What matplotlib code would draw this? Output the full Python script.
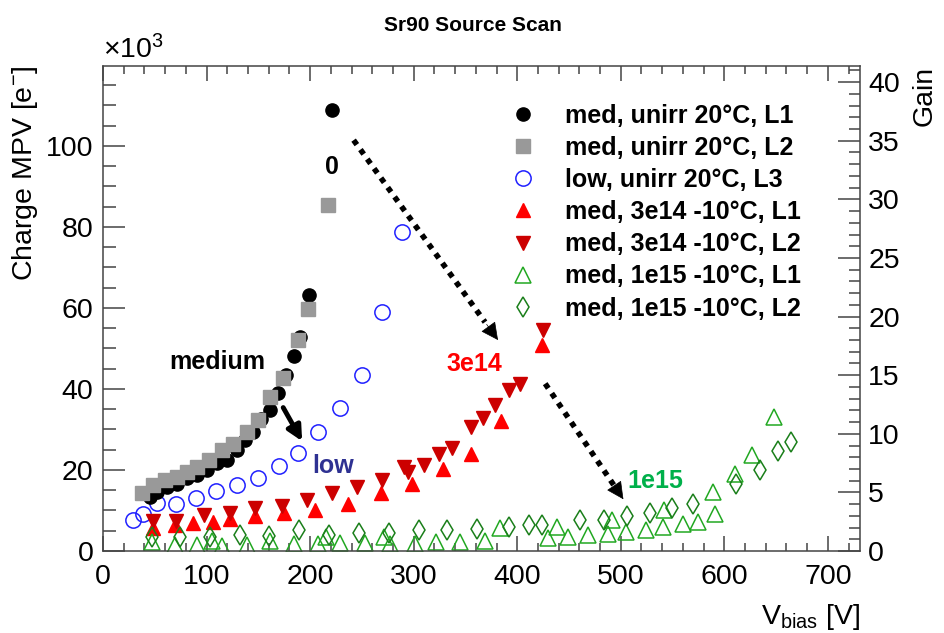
import numpy as np
import matplotlib
matplotlib.use("Agg")
import matplotlib.pyplot as plt
from matplotlib.ticker import MultipleLocator

plt.rcParams['font.family'] = ['Liberation Sans', 'DejaVu Sans']
plt.rcParams['mathtext.fontset'] = 'custom'
plt.rcParams['mathtext.rm'] = 'Liberation Sans'
plt.rcParams['mathtext.it'] = 'Liberation Sans:italic'
plt.rcParams['mathtext.bf'] = 'Liberation Sans:bold'

# bias voltage [V] and charge MPV [x1e3 e-]
v_unirr_l1 = [45, 52, 61.5, 71, 81, 90.5, 100, 110, 120, 129, 137, 145, 153, 161, 169, 177, 184.5, 190, 198.5, 221]
q_unirr_l1 = [13.3, 14.6, 15.8, 16.6, 17.9, 18.7, 19.9, 21.6, 22.4, 24.9, 27.3, 29.4, 32.7, 34.7, 38.9, 43.4, 48.1, 52.7, 63.1, 108.8]

v_unirr_l2 = [37.5, 48.6, 60, 71, 81, 90.5, 102, 115, 126, 139, 150, 161, 174, 188, 198.4, 217.7]
q_unirr_l2 = [14.2, 16.2, 17.5, 18.3, 19.5, 20.7, 22.4, 24.9, 26.5, 29.4, 32.3, 38.0, 42.6, 52.0, 59.8, 85.4]

v_low_l3 = [29, 39, 52, 70.5, 90, 109.5, 129, 150, 169.5, 188, 208, 229, 250, 269.3, 288.6]
q_low_l3 = [7.7, 9.1, 11.8, 11.5, 13.2, 14.8, 16.3, 18.1, 21.0, 24.3, 29.4, 35.4, 43.4, 59.1, 78.8]

v_3e14_l1 = [48.6, 70, 87, 106.6, 122.7, 146.9, 175, 205, 237, 268.6, 298.3, 328.2, 355.3, 384.2, 423.8]
q_3e14_l1 = [5.6, 6.5, 6.8, 7.2, 8.0, 8.6, 9.3, 10.0, 11.7, 14.2, 16.6, 20.3, 24.0, 32.1, 50.8]

v_3e14_l2 = [48.6, 70.5, 97.5, 122.7, 146.9, 173, 196.8, 221, 245.7, 269.3, 291, 295, 309.5, 324, 336.8, 355.3, 367.4, 378.7, 391.6, 402.9, 425]
q_3e14_l2 = [7.4, 7.5, 8.8, 9.5, 10.5, 11.1, 12.7, 14.2, 15.8, 17.6, 20.7, 19.5, 21.2, 24.0, 25.3, 30.5, 32.9, 36.0, 39.8, 41.3, 54.5]

v_1e15_l1 = [47, 70, 91, 105, 115, 139, 161, 184, 208, 215, 229, 253, 271, 277, 301, 322, 345, 369, 383, 430,
             438, 449, 468, 488, 492, 505, 524, 541, 542, 560, 575, 589, 591, 610, 627, 648]
q_1e15_l1 = [2.2, 1.6, 1.4, 2.4, 1.3, 1.6, 2.4, 1.8, 1.8, 3.5, 2.0, 2.0, 3.5, 1.8, 1.8, 2.2, 2.2, 2.4, 5.7, 3.1,
             5.9, 3.5, 3.9, 4.2, 7.6, 4.8, 5.1, 5.9, 10.1, 6.6, 7.2, 14.6, 9.2, 18.9, 23.6, 33.1]

v_1e15_l2 = [47, 74, 103, 132, 160, 189, 218, 247, 276, 305, 332, 361, 392, 411, 424, 461, 484, 506, 528, 549,
             570, 611, 634, 652, 664]
q_1e15_l2 = [3.4, 3.4, 3.4, 3.9, 3.6, 5.1, 3.9, 4.4, 4.4, 5.1, 5.1, 5.5, 5.9, 6.3, 6.3, 7.6, 7.7, 8.6, 9.4, 10.5,
             11.6, 16.5, 20.1, 24.7, 26.9]

labels = ['med, unirr 20°C, L1', 'med, unirr 20°C, L2', 'low, unirr 20°C, L3',
          'med, 3e14 -10°C, L1', 'med, 3e14 -10°C, L2', 'med, 1e15 -10°C, L1', 'med, 1e15 -10°C, L2']

gain_per_k = 2.893  # 1e3 electrons per unit gain

fig = plt.figure(figsize=(9.45, 6.33), dpi=100)
fig.subplots_adjust(left=103/945, right=860/945, bottom=1-551/633, top=1-66/633)
ax = fig.add_subplot(111)

ax.plot(v_unirr_l1, q_unirr_l1, 'o', color='black', ms=9.5, label=labels[0], zorder=4)
ax.plot(v_unirr_l2, q_unirr_l2, 's', color='#999999', ms=9.5, label=labels[1], zorder=5)
ax.plot(v_low_l3, q_low_l3, 'o', mfc='none', mec='#2020ff', mew=1.1, ms=11, label=labels[2])
ax.plot(v_3e14_l1, q_3e14_l1, '^', color='#ff0000', ms=10, label=labels[3])
ax.plot(v_3e14_l2, q_3e14_l2, 'v', color='#cc0000', ms=10, label=labels[4])
ax.plot(v_1e15_l1, q_1e15_l1, '^', mfc='none', mec='#22a822', mew=1.1, ms=11, label=labels[5])
ax.plot(v_1e15_l2, q_1e15_l2, 'd', mfc='none', mec='#1a7f1a', mew=1.1, ms=10, label=labels[6])

ax.set_xlim(0, 731)
ax.set_ylim(0, 119.7)
ax.xaxis.set_major_locator(MultipleLocator(100))
ax.xaxis.set_minor_locator(MultipleLocator(20))
ax.yaxis.set_major_locator(MultipleLocator(20))
ax.yaxis.set_minor_locator(MultipleLocator(5))
ax.tick_params(which='both', direction='in', top=True, right=False, labelsize=20.5, width=1.1, color='#444444')
ax.tick_params(axis='x', which='major', length=11, pad=9)
ax.tick_params(axis='x', which='minor', length=6)
ax.tick_params(axis='y', which='major', length=16, pad=7)
ax.tick_params(axis='y', which='minor', length=9)
for s in ax.spines.values():
    s.set_color('#444444')
    s.set_linewidth(1.1)

ax2 = ax.twinx()
ax2.set_ylim(0, 119.7 / gain_per_k)
ax2.yaxis.set_major_locator(MultipleLocator(5))
ax2.yaxis.set_minor_locator(MultipleLocator(1))
ax2.tick_params(which='both', direction='in', labelsize=20.5, width=1.1, color='#444444', pad=6)
ax2.tick_params(which='major', length=16)
ax2.tick_params(which='minor', length=8)
for s in ax2.spines.values():
    s.set_visible(False)

ax.set_xlabel(r'V$_{\mathrm{bias}}$ [V]', fontsize=20.5, loc='right', labelpad=9)
ax.set_ylabel(r'Charge MPV [e$^{-}$]', fontsize=20.5, loc='top', labelpad=4)
ax2.set_ylabel('Gain', fontsize=20.5, loc='top', labelpad=8)
ax.text(0, 1.003, r'$\times$10$^{3}$', transform=ax.transAxes, fontsize=20.5, ha='left', va='bottom')
fig.text(0.5, 0.975, 'Sr90 Source Scan', fontsize=15, fontweight='bold', ha='center', va='top')

leg = ax.legend(loc='upper left', bbox_to_anchor=(0.538, 0.922), frameon=False,
                prop={'weight': 'bold', 'size': 18}, handlelength=1.0, handletextpad=1.18,
                labelspacing=0.325, borderpad=0, borderaxespad=0, numpoints=1)

# annotations
ax.text(221, 94.7, '0', fontsize=18, fontweight='bold', ha='center', va='center')
ax.text(110, 46.7, 'medium', fontsize=18, fontweight='bold', ha='center', va='center')
ax.text(222, 20.9, 'low', fontsize=18, fontweight='bold', color='#2e3192', ha='center', va='center')
ax.text(359, 46.1, '3e14', fontsize=18, fontweight='bold', color='#ff0000', ha='center', va='center')
ax.text(533, 17.2, '1e15', fontsize=18, fontweight='bold', color='#00b04a', ha='center', va='center')

ax.annotate('', xy=(193.6, 26.5), xytext=(172.7, 36),
            arrowprops=dict(arrowstyle='-|>', color='black', lw=3.5, mutation_scale=22))
for start, tip in [((242, 101.4), (383, 51.5)), ((427, 41.3), (504, 12.2))]:
    dx = tip[0] - start[0]
    dy = tip[1] - start[1]
    mid = (start[0] + 0.9 * dx, start[1] + 0.9 * dy)
    ax.plot([start[0], mid[0]], [start[1], mid[1]], color='black', lw=4, linestyle=(0, (1, 1.1)))
    ax.annotate('', xy=tip, xytext=mid,
                arrowprops=dict(arrowstyle='-|>', color='black', lw=0.5, mutation_scale=28))

fig.savefig('out.png', dpi=100, facecolor='white')
